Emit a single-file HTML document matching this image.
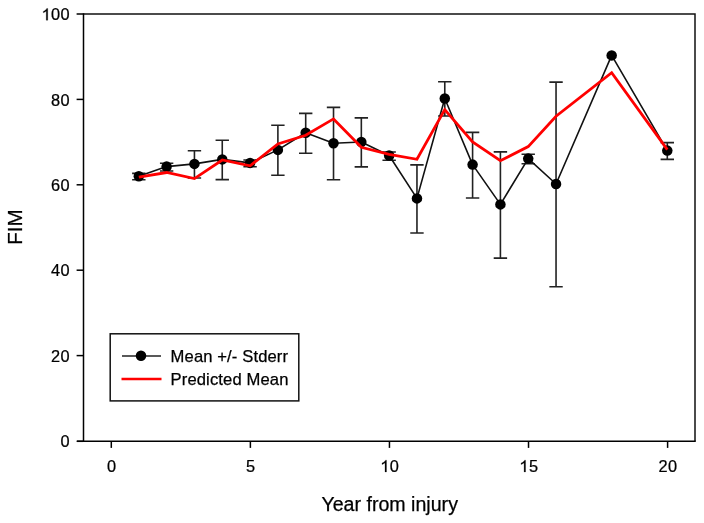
<!DOCTYPE html>
<html><head><meta charset="utf-8"><style>
html,body{margin:0;padding:0;background:#fff;width:704px;height:523px;overflow:hidden}
svg{display:block;will-change:transform;font-family:"Liberation Sans",sans-serif;fill:#000}
text{fill:#000;stroke:#000;stroke-width:0.25px}
</style></head><body>
<svg width="704" height="523" viewBox="0 0 704 523">
<rect x="0" y="0" width="704" height="523" fill="#fff"/>
<path d="M83.5,14.0 L695.0,14.0 L695.0,441.3" fill="none" stroke="#111" stroke-width="1.5"/>
<path d="M77,441.3 L695.75,441.3 M83.5,13.25 L83.5,441.3" fill="none" stroke="#000" stroke-width="1.5"/>
<line x1="76.6" y1="441.30" x2="83.5" y2="441.30" stroke="#000" stroke-width="1.5"/>
<text transform="translate(60.53,447.20) scale(0.94,1)" font-size="17.4">0</text>
<line x1="76.6" y1="355.60" x2="83.5" y2="355.60" stroke="#000" stroke-width="1.5"/>
<text transform="translate(51.08,361.80) scale(0.94,1)" font-size="17.4">2</text>
<text transform="translate(60.53,361.80) scale(0.94,1)" font-size="17.4">0</text>
<line x1="76.6" y1="270.20" x2="83.5" y2="270.20" stroke="#000" stroke-width="1.5"/>
<text transform="translate(51.08,276.40) scale(0.94,1)" font-size="17.4">4</text>
<text transform="translate(60.53,276.40) scale(0.94,1)" font-size="17.4">0</text>
<line x1="76.6" y1="184.80" x2="83.5" y2="184.80" stroke="#000" stroke-width="1.5"/>
<text transform="translate(51.08,191.00) scale(0.94,1)" font-size="17.4">6</text>
<text transform="translate(60.53,191.00) scale(0.94,1)" font-size="17.4">0</text>
<line x1="76.6" y1="99.40" x2="83.5" y2="99.40" stroke="#000" stroke-width="1.5"/>
<text transform="translate(51.08,105.60) scale(0.94,1)" font-size="17.4">8</text>
<text transform="translate(60.53,105.60) scale(0.94,1)" font-size="17.4">0</text>
<line x1="76.6" y1="14.00" x2="83.5" y2="14.00" stroke="#000" stroke-width="1.5"/>
<polygon points="47.74,20.20 46.25,20.20 46.25,11.04 45.72,11.53 44.85,12.03 43.97,12.53 43.28,12.77 43.28,11.38 44.52,10.82 45.46,10.01 46.39,9.20 46.77,8.44 47.74,8.44" fill="#000" stroke="#000" stroke-width="0.25"/>
<text transform="translate(51.08,20.20) scale(0.94,1)" font-size="17.4">0</text>
<text transform="translate(60.53,20.20) scale(0.94,1)" font-size="17.4">0</text>
<line x1="111.30" y1="441.0" x2="111.30" y2="447.9" stroke="#000" stroke-width="1.5"/>
<text transform="translate(106.96,471.90) scale(0.94,1)" font-size="17.4">0</text>
<line x1="250.38" y1="441.0" x2="250.38" y2="447.9" stroke="#000" stroke-width="1.5"/>
<text transform="translate(246.03,471.90) scale(0.94,1)" font-size="17.4">5</text>
<line x1="389.45" y1="441.0" x2="389.45" y2="447.9" stroke="#000" stroke-width="1.5"/>
<polygon points="386.49,471.90 385.00,471.90 385.00,462.74 384.47,463.23 383.60,463.73 382.72,464.23 382.03,464.47 382.03,463.08 383.27,462.52 384.21,461.71 385.14,460.90 385.52,460.14 386.49,460.14" fill="#000" stroke="#000" stroke-width="0.25"/>
<text transform="translate(389.83,471.90) scale(0.94,1)" font-size="17.4">0</text>
<line x1="528.52" y1="441.0" x2="528.52" y2="447.9" stroke="#000" stroke-width="1.5"/>
<polygon points="525.56,471.90 524.08,471.90 524.08,462.74 523.54,463.23 522.67,463.73 521.80,464.23 521.10,464.47 521.10,463.08 522.35,462.52 523.28,461.71 524.21,460.90 524.60,460.14 525.56,460.14" fill="#000" stroke="#000" stroke-width="0.25"/>
<text transform="translate(528.91,471.90) scale(0.94,1)" font-size="17.4">5</text>
<line x1="667.60" y1="441.0" x2="667.60" y2="447.9" stroke="#000" stroke-width="1.5"/>
<text transform="translate(658.53,471.90) scale(0.94,1)" font-size="17.4">2</text>
<text transform="translate(667.98,471.90) scale(0.94,1)" font-size="17.4">0</text>
<text x="389.7" y="510.9" text-anchor="middle" font-size="19.6">Year from injury</text>
<text transform="translate(22.4,227.1) rotate(-90)" x="0" y="0" text-anchor="middle" font-size="20.5">FIM</text>
<path d="M138.81,173.4 L138.81,179.8 M132.12,173.4 L145.51,173.4 M132.12,179.8 L145.51,179.8" stroke="#222" stroke-width="1.6" fill="none"/>
<path d="M166.63,163.2 L166.63,171.0 M159.93,163.2 L173.33,163.2 M159.93,171.0 L173.33,171.0" stroke="#222" stroke-width="1.6" fill="none"/>
<path d="M194.44,150.7 L194.44,178.0 M187.75,150.7 L201.14,150.7 M187.75,178.0 L201.14,178.0" stroke="#222" stroke-width="1.6" fill="none"/>
<path d="M222.26,140.2 L222.26,179.6 M215.56,140.2 L228.96,140.2 M215.56,179.6 L228.96,179.6" stroke="#222" stroke-width="1.6" fill="none"/>
<path d="M250.07,160.0 L250.07,166.8 M243.38,160.0 L256.77,160.0 M243.38,166.8 L256.77,166.8" stroke="#222" stroke-width="1.6" fill="none"/>
<path d="M277.89,125.3 L277.89,175.3 M271.19,125.3 L284.59,125.3 M271.19,175.3 L284.59,175.3" stroke="#222" stroke-width="1.6" fill="none"/>
<path d="M305.70,113.4 L305.70,153.3 M299.00,113.4 L312.40,113.4 M299.00,153.3 L312.40,153.3" stroke="#222" stroke-width="1.6" fill="none"/>
<path d="M333.52,107.4 L333.52,179.8 M326.82,107.4 L340.22,107.4 M326.82,179.8 L340.22,179.8" stroke="#222" stroke-width="1.6" fill="none"/>
<path d="M361.33,117.9 L361.33,166.9 M354.63,117.9 L368.03,117.9 M354.63,166.9 L368.03,166.9" stroke="#222" stroke-width="1.6" fill="none"/>
<path d="M389.15,152.0 L389.15,160.2 M382.45,152.0 L395.85,152.0 M382.45,160.2 L395.85,160.2" stroke="#222" stroke-width="1.6" fill="none"/>
<path d="M416.96,164.9 L416.96,233.0 M410.26,164.9 L423.66,164.9 M410.26,233.0 L423.66,233.0" stroke="#222" stroke-width="1.6" fill="none"/>
<path d="M444.78,81.8 L444.78,116.0 M438.08,81.8 L451.48,81.8 M438.08,116.0 L451.48,116.0" stroke="#222" stroke-width="1.6" fill="none"/>
<path d="M472.59,132.4 L472.59,198.0 M465.89,132.4 L479.29,132.4 M465.89,198.0 L479.29,198.0" stroke="#222" stroke-width="1.6" fill="none"/>
<path d="M500.41,151.9 L500.41,258.1 M493.71,151.9 L507.11,151.9 M493.71,258.1 L507.11,258.1" stroke="#222" stroke-width="1.6" fill="none"/>
<path d="M528.22,154.3 L528.22,163.7 M521.52,154.3 L534.92,154.3 M521.52,163.7 L534.92,163.7" stroke="#222" stroke-width="1.6" fill="none"/>
<path d="M556.04,82.1 L556.04,286.7 M549.34,82.1 L562.74,82.1 M549.34,286.7 L562.74,286.7" stroke="#222" stroke-width="1.6" fill="none"/>
<path d="M667.30,142.6 L667.30,159.4 M660.60,142.6 L674.00,142.6 M660.60,159.4 L674.00,159.4" stroke="#222" stroke-width="1.6" fill="none"/>
<path d="M138.81,176.20 L166.63,166.60 L194.44,163.90 L222.26,159.40 L250.07,162.90 L277.89,149.90 L305.70,132.80 L333.52,143.20 L361.33,142.00 L389.15,155.50 L416.96,198.40 L444.78,98.50 L472.59,164.60 L500.41,204.40 L528.22,158.60 L556.04,184.00 L611.67,55.40 L667.30,150.60" stroke="#111" stroke-width="1.6" fill="none" stroke-linejoin="round"/>
<circle cx="138.81" cy="176.20" r="5.25" fill="#000"/>
<circle cx="166.63" cy="166.60" r="5.25" fill="#000"/>
<circle cx="194.44" cy="163.90" r="5.25" fill="#000"/>
<circle cx="222.26" cy="159.40" r="5.25" fill="#000"/>
<circle cx="250.07" cy="162.90" r="5.25" fill="#000"/>
<circle cx="277.89" cy="149.90" r="5.25" fill="#000"/>
<circle cx="305.70" cy="132.80" r="5.25" fill="#000"/>
<circle cx="333.52" cy="143.20" r="5.25" fill="#000"/>
<circle cx="361.33" cy="142.00" r="5.25" fill="#000"/>
<circle cx="389.15" cy="155.50" r="5.25" fill="#000"/>
<circle cx="416.96" cy="198.40" r="5.25" fill="#000"/>
<circle cx="444.78" cy="98.50" r="5.25" fill="#000"/>
<circle cx="472.59" cy="164.60" r="5.25" fill="#000"/>
<circle cx="500.41" cy="204.40" r="5.25" fill="#000"/>
<circle cx="528.22" cy="158.60" r="5.25" fill="#000"/>
<circle cx="556.04" cy="184.00" r="5.25" fill="#000"/>
<circle cx="611.67" cy="55.40" r="5.25" fill="#000"/>
<circle cx="667.30" cy="150.60" r="5.25" fill="#000"/>
<path d="M138.81,177.1 L166.63,172.5 L194.44,178.6 L222.26,160.0 L250.07,165.8 L277.89,143.9 L305.70,135.3 L333.52,118.9 L361.33,147.3 L389.15,154.3 L416.96,159.3 L444.78,109.6 L472.59,142.0 L500.41,160.7 L528.22,146.6 L556.04,116.2 L611.67,72.7 L667.30,149.6" stroke="#f00" stroke-width="2.8" fill="none" stroke-linejoin="miter"/>
<rect x="110.2" y="333.8" width="188.6" height="67.1" fill="#fff" stroke="#111" stroke-width="1.5"/>
<line x1="122" y1="356" x2="161" y2="356" stroke="#222" stroke-width="1.5"/>
<circle cx="141" cy="355.7" r="5.25" fill="#000"/>
<line x1="121.5" y1="379" x2="161.5" y2="379" stroke="#f00" stroke-width="2.5"/>
<text x="170.6" y="362.3" font-size="16.6" letter-spacing="0.12">Mean +/- Stderr</text>
<text x="170.6" y="385.2" font-size="16.6" letter-spacing="0.12">Predicted Mean</text>
</svg>
</body></html>
